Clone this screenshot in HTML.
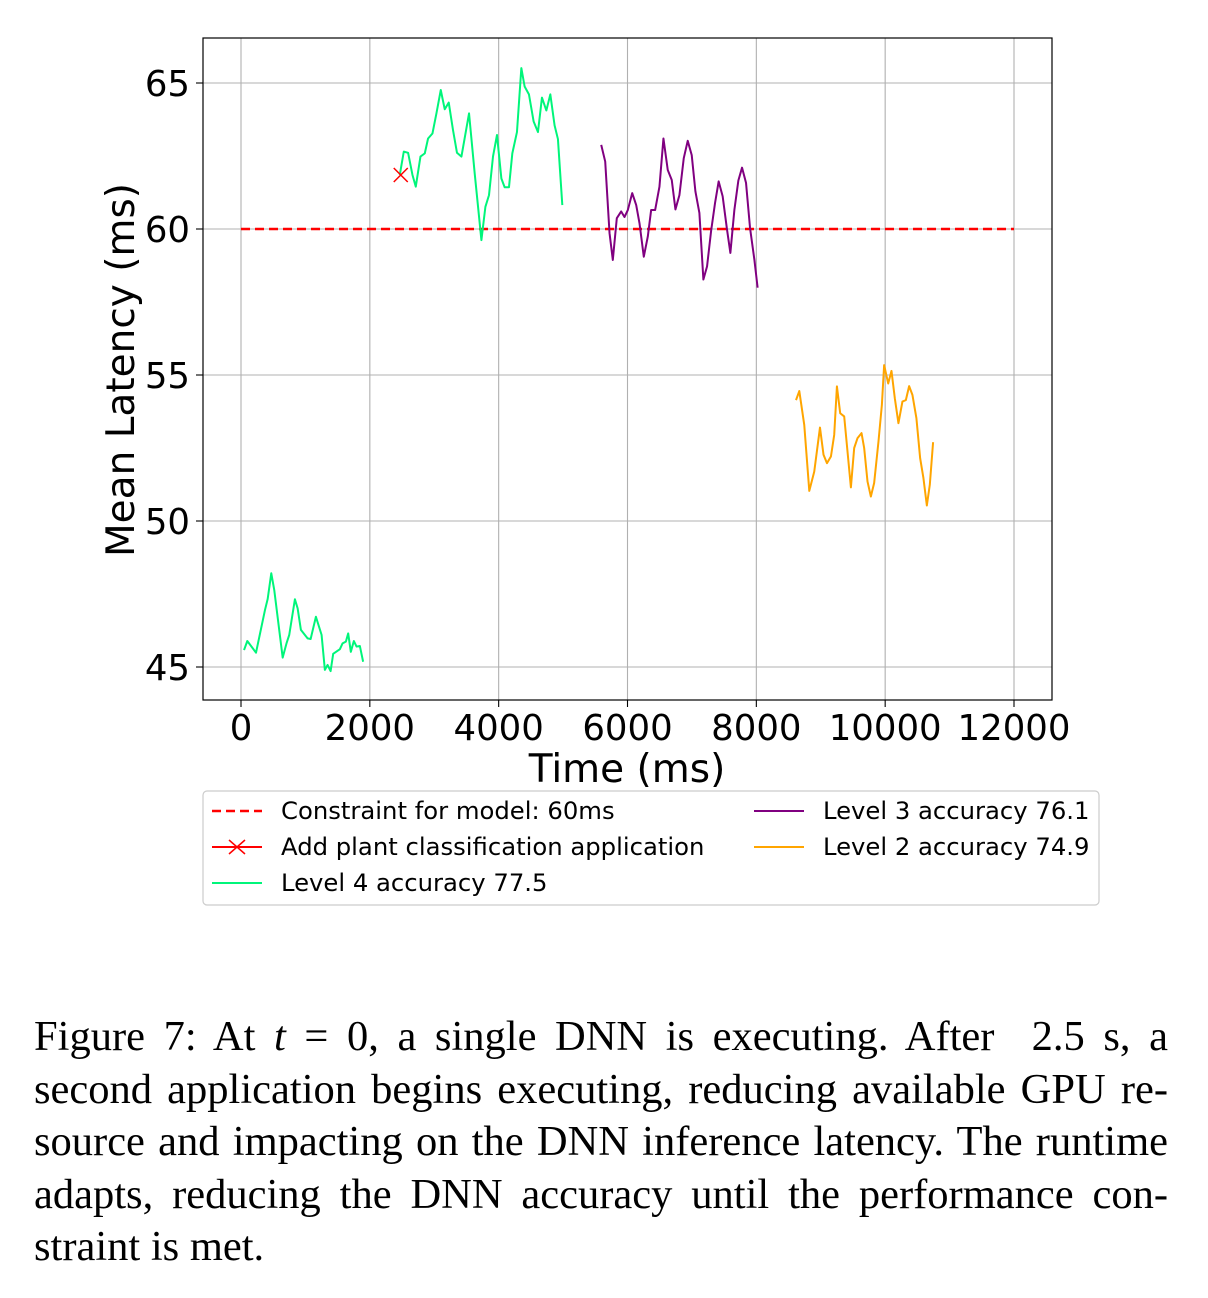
<!DOCTYPE html>
<html><head><meta charset="utf-8">
<style>
body{margin:0;background:#fff;width:1208px;height:1298px;overflow:hidden;position:relative;}
svg text{font-family:"DejaVu Sans","Liberation Sans",sans-serif;}
#caption{position:absolute;left:34px;top:1011px;width:1134px;font-family:"Liberation Serif",serif;font-size:42.5px;line-height:52.5px;color:#000;}
#caption .ln{text-align:justify;text-align-last:justify;white-space:nowrap;}
#caption .last{text-align:left;text-align-last:left;}
</style></head>
<body>
<svg id="chart" width="1208" height="980" style="position:absolute;left:0;top:0">
<g id="grid"></g>
<g id="marks"></g>
<rect x="203" y="38" width="849" height="662" fill="none" stroke="#000" stroke-width="1.2"/>
<g id="ticks"></g>
<text x="627" y="782" font-size="39" text-anchor="middle">Time (ms)</text>
<text transform="translate(134,370) rotate(-90)" font-size="39" text-anchor="middle">Mean Latency (ms)</text>
<g>
<rect x="203" y="791" width="896" height="114" rx="4" fill="#fff" stroke="#ccc" stroke-width="1.2"/>
<g><line x1="212" y1="811" x2="262" y2="811" stroke="#ff0000" stroke-width="2.5" stroke-dasharray="9,5"/><text x="281" y="819" font-size="24.3">Constraint for model: 60ms</text></g>
<g><line x1="212" y1="847" x2="262" y2="847" stroke="#ff0000" stroke-width="2"/><path d="M229,840 L245,854 M245,840 L229,854" stroke="#ff0000" stroke-width="1.5"/><text x="281" y="855" font-size="24.3">Add plant classification application</text></g>
<g><line x1="212" y1="883" x2="262" y2="883" stroke="#00f57a" stroke-width="2"/><text x="281" y="891" font-size="24.3">Level 4 accuracy 77.5</text></g>
<g><line x1="754" y1="811" x2="804" y2="811" stroke="#800080" stroke-width="2"/><text x="823" y="819" font-size="24.3">Level 3 accuracy 76.1</text></g>
<g><line x1="754" y1="847" x2="804" y2="847" stroke="#ffa500" stroke-width="2"/><text x="823" y="855" font-size="24.3">Level 2 accuracy 74.9</text></g>
</g>
</svg>
<div id="caption">
<div class="ln">Figure 7: At <i>t</i> = 0, a single DNN is executing. After &nbsp;2.5 s, a</div>
<div class="ln">second application begins executing, reducing available GPU re-</div>
<div class="ln">source and impacting on the DNN inference latency. The runtime</div>
<div class="ln">adapts, reducing the DNN accuracy until the performance con-</div>
<div class="ln last">straint is met.</div>
</div>
<script>
const xTicks=[0,2000,4000,6000,8000,10000,12000];
const yTicks=[45,50,55,60,65];
const constraintValue=60;
const constraintRange=[0,12000];
const markerPoint=[2480,61.85];
const s1t=[47,98,233,372,414,470,516,647,709,749,837,879,930,1034,1081,1163,1251,1302,1344,1391,1431,1535,1577,1628,1664,1705,1752,1794,1845,1896];
const s1v=[45.58,45.89,45.49,46.95,47.33,48.21,47.64,45.32,45.83,46.10,47.32,47.01,46.27,45.98,45.96,46.72,46.10,44.90,45.07,44.86,45.45,45.61,45.81,45.87,46.15,45.52,45.89,45.70,45.72,45.18];
const s2t=[2465,2527,2594,2662,2713,2786,2853,2904,2972,3034,3101,3163,3225,3291,3353,3422,3540,3628,3732,3794,3850,3912,3974,4042,4093,4160,4212,4284,4352,4403,4470,4543,4610,4672,4740,4802,4868,4920,4988];
const s2v=[61.85,62.65,62.61,61.85,61.45,62.48,62.59,63.10,63.27,63.96,64.76,64.10,64.33,63.39,62.61,62.48,63.96,61.90,59.62,60.76,61.16,62.48,63.22,61.73,61.43,61.43,62.59,63.32,65.51,64.88,64.61,63.68,63.32,64.50,64.06,64.61,63.55,63.08,60.82];
const s3t=[5592,5654,5721,5772,5834,5902,5953,6005,6073,6135,6186,6253,6315,6367,6429,6496,6558,6625,6687,6744,6806,6873,6935,6997,7054,7116,7178,7235,7297,7359,7415,7477,7545,7597,7659,7721,7778,7840,7902,7969,8020];
const s3v=[62.88,62.31,59.86,58.94,60.37,60.60,60.41,60.65,61.23,60.82,60.20,59.05,59.74,60.65,60.65,61.45,63.10,62.02,61.68,60.67,61.16,62.42,63.02,62.53,61.29,60.55,58.27,58.72,59.92,60.89,61.63,61.12,59.98,59.18,60.65,61.66,62.10,61.58,60.04,58.96,57.99];
const s4t=[8616,8667,8744,8822,8899,8988,9043,9096,9158,9209,9251,9302,9364,9468,9519,9571,9633,9674,9726,9778,9829,9896,9949,9984,10047,10098,10150,10206,10268,10321,10372,10423,10485,10543,10594,10647,10693,10744];
const s4v=[54.14,54.45,53.29,51.03,51.69,53.20,52.27,51.98,52.21,52.95,54.61,53.69,53.58,51.15,52.50,52.84,53.01,52.50,51.35,50.84,51.30,52.72,53.98,55.34,54.71,55.14,54.20,53.35,54.09,54.14,54.62,54.32,53.52,52.15,51.47,50.53,51.24,52.70];

const NS="http://www.w3.org/2000/svg";
const X=t=>241+t*(773/12000);
const Y=v=>83+(65-v)*29.2;
function mk(tag,attrs,parent){const e=document.createElementNS(NS,tag);for(const k in attrs)e.setAttribute(k,attrs[k]);parent.appendChild(e);return e;}
const grid=document.getElementById('grid'),marks=document.getElementById('marks'),ticks=document.getElementById('ticks');
xTicks.forEach(t=>{
  const g=mk('line',{x1:X(t),x2:X(t),y1:38,y2:700,stroke:'#b0b0b0','stroke-width':1.1},grid);
  
  
  const tk=mk('line',{x1:X(t),x2:X(t),y1:700,y2:707,stroke:'#000','stroke-width':1.1},ticks);
  
  
  const tx=mk('text',{x:X(t),y:740,'font-size':35.5,'text-anchor':'middle'},ticks);tx.textContent=t;
  
  
});
yTicks.forEach(v=>{
  const g=mk('line',{x1:203,x2:1052,y1:Y(v),y2:Y(v),stroke:'#b0b0b0','stroke-width':1.1},grid);
  
  
  const tk=mk('line',{x1:196,x2:203,y1:Y(v),y2:Y(v),stroke:'#000','stroke-width':1.1},ticks);
  
  
  const tx=mk('text',{x:190,y:Y(v)+13,'font-size':35.5,'text-anchor':'end'},ticks);tx.textContent=v;
  
  
});
const c=mk('line',{x1:X(constraintRange[0]),x2:X(constraintRange[1]),y1:Y(constraintValue),y2:Y(constraintValue),stroke:'#ff0000','stroke-width':2.5,'stroke-dasharray':'9,5'},marks);


function line(ts,vs,color,name){
  const p=mk('polyline',{points:ts.map((t,i)=>X(t)+','+Y(vs[i])).join(' '),fill:'none',stroke:color,'stroke-width':2,'stroke-linejoin':'round'},marks);
  
  
}
line(s1t,s1v,'#00f57a','level4-line-initial');
line(s2t,s2v,'#00f57a','level4-line-after-app');
line(s3t,s3v,'#800080','level3-line');
line(s4t,s4v,'#ffa500','level2-line');
const mx=X(markerPoint[0]),my=Y(markerPoint[1]);
const m=mk('path',{d:`M${mx-7},${my-7} L${mx+7},${my+7} M${mx+7},${my-7} L${mx-7},${my+7}`,stroke:'#ff0000','stroke-width':1.5},marks);


</script>
</body></html>
